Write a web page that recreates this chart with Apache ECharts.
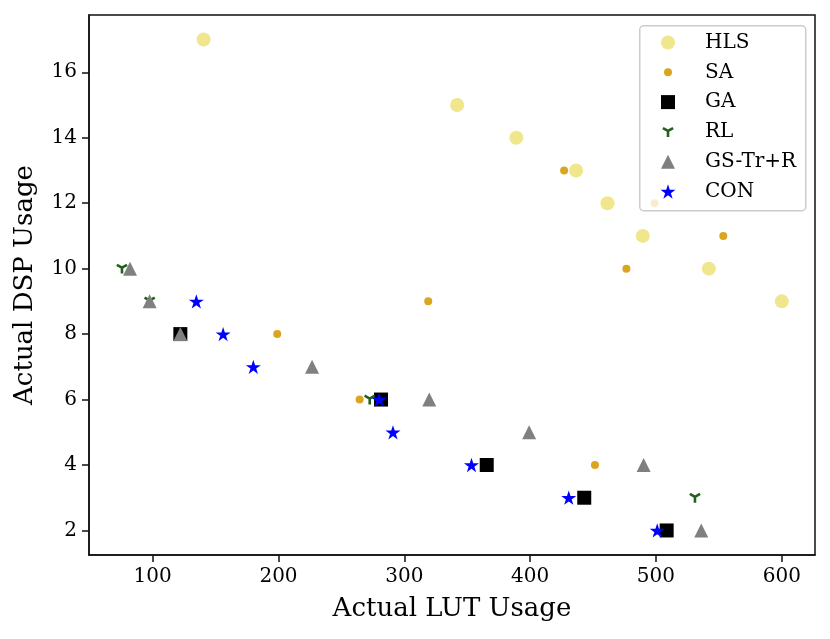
<!DOCTYPE html>
<html>
<head>
    <meta charset="UTF-8">
    <title>DSP vs LUT usage</title>
    <style>
        html, body { margin: 0; padding: 0; background: #fff; }
        #chart { width: 830px; height: 639px; }
    </style>
</head>
<body>
    <div id="chart"></div>

    <script src="https://cdn.jsdelivr.net/npm/echarts@6/dist/echarts.min.js"></script>
    <script>
        // values (LUT on x, DSP on y)
        var hlsLut = [140.5, 342, 389, 436.5, 461.5, 489.5, 542, 600];
        var hlsDsp = [17, 15, 14, 13, 12, 11, 10, 9];

        var saLut = [427, 499, 553.5, 476.5, 319, 199, 264.5, 451.5];
        var saDsp = [13, 12, 11, 10, 9, 8, 6, 4];

        var gaLut = [122, 281.5, 365.5, 443, 508.5];
        var gaDsp = [8, 6, 4, 3, 2];

        var rlLut = [75.6, 97.6, 272.5, 531];
        var rlDsp = [10, 9, 6, 3];

        var gsLut = [82, 97.6, 122, 226.7, 319.8, 399.2, 490.2, 536];
        var gsDsp = [10, 9, 8, 7, 6, 5, 4, 2];

        var conLut = [134.7, 156, 180, 280, 291, 353.4, 430.7, 501];
        var conDsp = [9, 8, 7, 6, 5, 4, 3, 2];

        var xTicks = [100, 200, 300, 400, 500, 600];
        var yTicks = [2, 4, 6, 8, 10, 12, 14, 16];

        var FONT = 'DejaVu Serif';

        // marker shapes not built into echarts
        var starPath = 'path://M0,-100 L22.45,-30.9 L95.11,-30.9 L36.33,11.8 L58.78,80.9 L0,38.2 L-58.78,80.9 L-36.33,11.8 L-95.11,-30.9 L-22.45,-30.9 Z';
        var triDownPath = 'path://M-2.2,0 L2.2,0 L2.2,10 L-2.2,10 Z ' +
            'M1.1,-1.905 L-1.1,1.905 L-9.76,-3.095 L-7.56,-6.905 Z ' +
            'M-1.1,-1.905 L7.56,-6.905 L9.76,-3.095 L1.1,1.905 Z';

        function pairs(xs, ys) {
            var out = [];
            for (var i = 0; i < xs.length; i++) out.push([xs[i], ys[i]]);
            return out;
        }

        var specs = [
            {name: 'HLS', xs: hlsLut, ys: hlsDsp, symbol: 'circle', size: 14, color: '#f0e68c'},
            {name: 'SA', xs: saLut, ys: saDsp, symbol: 'circle', size: 8, color: '#daa520'},
            {name: 'GA', xs: gaLut, ys: gaDsp, symbol: 'rect', size: 14, color: '#000000'},
            {name: 'RL', xs: rlLut, ys: rlDsp, symbol: triDownPath, size: 11.5, color: '#22601c'},
            {name: 'GS-Tr+R', xs: gsLut, ys: gsDsp, symbol: 'triangle', size: 14, color: '#808080'},
            {name: 'CON', xs: conLut, ys: conDsp, symbol: starPath, size: 15, color: '#0000ff'}
        ];

        var series = [];
        var legends = [];
        specs.forEach(function (s, i) {
            series.push({
                name: s.name,
                type: 'scatter',
                data: pairs(s.xs, s.ys),
                symbol: s.symbol,
                symbolSize: s.size,
                symbolKeepAspect: true,
                itemStyle: {color: s.color, opacity: 1},
                emphasis: {disabled: true}
            });
            var rowY = 42.5 + i * 29.8;
            legends.push({
                data: [s.name],
                orient: 'vertical',
                left: 668 - s.size / 2,
                top: rowY - 11,
                padding: 0,
                itemWidth: s.size,
                itemHeight: s.size,
                selectedMode: false,
                textStyle: {
                    fontFamily: FONT,
                    fontSize: 20,
                    color: '#000',
                    lineHeight: 22,
                    padding: [0, 0, 0, 32 - s.size / 2]
                }
            });
        });

        var option = {
            animation: false,
            backgroundColor: '#fff',
            grid: {
                left: 89, right: 15, top: 15, bottom: 84,
                show: true, borderColor: '#111', borderWidth: 1.5
            },
            graphic: [{
                type: 'rect',
                left: 639, top: 25, z: 3,
                shape: {width: 166, height: 185, r: 4},
                style: {fill: 'rgba(255,255,255,0.8)', stroke: '#cccccc', lineWidth: 1.5}
            }],
            legend: legends,
            xAxis: {
                type: 'value',
                min: 49.4, max: 626.4,
                name: 'Actual LUT Usage',
                nameLocation: 'middle',
                nameGap: 39,
                nameTextStyle: {fontFamily: FONT, fontSize: 26, color: '#000', lineHeight: 30},
                axisLine: {show: true, lineStyle: {color: '#111', width: 1.5}},
                axisTick: {show: true, length: 7, lineStyle: {color: '#111', width: 1.5}, customValues: xTicks},
                axisLabel: {fontFamily: FONT, fontSize: 20, color: '#000', margin: 12, customValues: xTicks},
                splitLine: {show: false}
            },
            yAxis: {
                type: 'value',
                min: 1.25, max: 17.75,
                name: 'Actual DSP Usage',
                nameLocation: 'middle',
                nameGap: 42,
                nameTextStyle: {fontFamily: FONT, fontSize: 26, color: '#000', lineHeight: 30},
                axisLine: {show: true, lineStyle: {color: '#111', width: 1.5}},
                axisTick: {show: true, length: 7, lineStyle: {color: '#111', width: 1.5}, customValues: yTicks},
                axisLabel: {fontFamily: FONT, fontSize: 20, color: '#000', margin: 12, customValues: yTicks},
                splitLine: {show: false}
            },
            series: series
        };

        var myChart = echarts.init(document.getElementById('chart'));
        myChart.setOption(option);
    </script>
</body>
</html>
